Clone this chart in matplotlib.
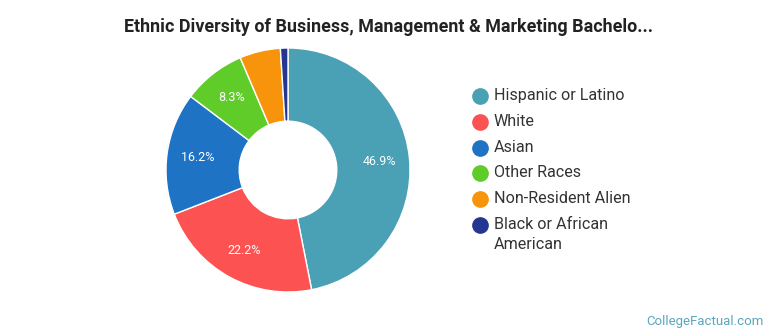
import matplotlib
matplotlib.use("Agg")
import matplotlib.pyplot as plt
from matplotlib.lines import Line2D

plt.rcParams['font.family'] = ['Roboto', 'DejaVu Sans']

title = "Ethnic Diversity of Business, Management & Marketing Bachelo..."
categories = ["Hispanic or Latino", "White", "Asian", "Other Races",
              "Non-Resident Alien", "Black or African\nAmerican"]
values = [46.9, 22.2, 16.2, 8.3, 5.4, 1.0]
colors = ["#4aa0b5", "#fc5252", "#1f73c4", "#5fcc2a", "#f7940b", "#24368f"]

W, H = 770, 335
fig = plt.figure(figsize=(W / 100, H / 100), dpi=100)

cx, cy, r = 288, 170, 122
ax = fig.add_axes([(cx - r) / W, (H - cy - r) / H, 2 * r / W, 2 * r / H])

def fmt(p):
    return f"{p:.1f}%" if p >= 8 else ""

wedges, texts, autotexts = ax.pie(
    values, colors=colors, startangle=90, counterclock=False,
    radius=1.0, autopct=fmt, pctdistance=0.75,
    wedgeprops=dict(width=0.6, edgecolor="white", linewidth=1.0),
    textprops=dict(color="white", fontsize=9))
ax.set_xlim(-1, 1)
ax.set_ylim(-1, 1)
ax.set_aspect("equal")
ax.axis("off")

fig.text(389 / W, 1 - 27 / H, title, ha="center", va="center",
         fontsize=12.9, fontweight="bold", color="#222222")

# legend drawn manually
lx_marker, lx_text, ly0, pitch = 480, 494, 96, 25.8
for i, (lab, c) in enumerate(zip(categories, colors)):
    y = ly0 + i * pitch
    fig.add_artist(Line2D([lx_marker / W], [1 - y / H], marker="o",
                          markersize=11, markerfacecolor=c, markeredgecolor=c,
                          linestyle="", transform=fig.transFigure))
    fig.text(lx_text / W, 1 - (y - 8) / H, lab, ha="left", va="top",
             fontsize=11.6, color="#333333", linespacing=1.45)

fig.text(764 / W, 1 - 321 / H, "CollegeFactual.com", ha="right", va="center",
         fontsize=9.5, color="#5aa6bd")

fig.savefig("out.png", dpi=100, facecolor="white")
